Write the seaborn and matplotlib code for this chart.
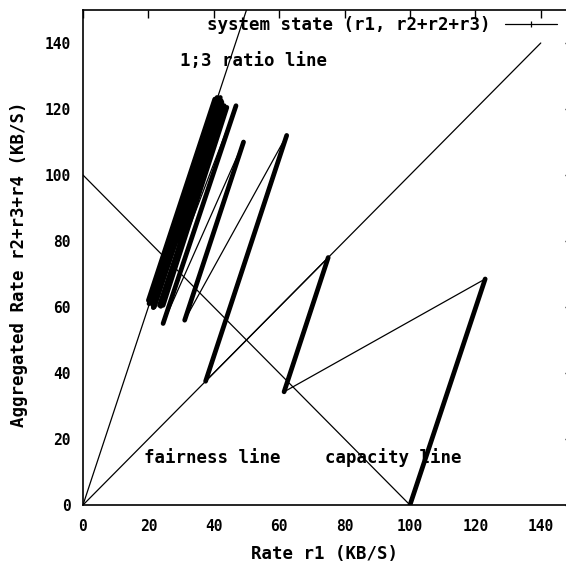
import matplotlib
matplotlib.use("Agg")
import matplotlib.pyplot as plt
from matplotlib.lines import Line2D
import seaborn as sns
import pandas as pd

# ---- data -------------------------------------------------------------
# system state trajectory vertices: (r1, r2+r3+r4), alternating trough / peak
state_r1 = [100.0, 123.0, 61.5, 75.0, 37.5, 62.3, 31.1, 49.1, 24.5, 46.8,
            23.4, 43.5, 21.8, 42.5, 21.2, 42.0, 21.0, 41.5, 20.8, 42.8,
            21.4, 41.0, 20.5, 42.3, 24.5, 44.0, 21.2, 41.8, 20.0, 40.3,
            20.9, 43.0, 21.5, 41.5, 23.8, 43.2, 20.2, 40.6, 20.8, 42.0]
state_agg = [0.0, 68.5, 34.3, 75.0, 37.5, 112.0, 56.0, 110.0, 55.0, 121.0,
             60.5, 120.0, 60.0, 122.0, 61.0, 123.5, 61.8, 123.0, 61.5, 121.0,
             60.5, 123.5, 61.8, 122.5, 60.5, 120.5, 61.2, 123.0, 62.0, 123.0,
             61.5, 119.5, 59.8, 122.5, 60.2, 121.0, 61.0, 122.5, 61.2, 121.5]

fair_r1 = [0, 140]
fair_agg = [0, 140]
cap_r1 = [0, 100]
cap_agg = [100, 0]
ratio_r1 = [0, 50]
ratio_agg = [0, 150]

xticks = [0, 20, 40, 60, 80, 100, 120, 140]
yticks = [0, 20, 40, 60, 80, 100, 120, 140]

legend_label = "system state (r1, r2+r2+r3)"
xlabel = "Rate r1 (KB/S)"
ylabel = "Aggregated Rate r2+r3+r4 (KB/S)"

# ---- style ------------------------------------------------------------
sns.set_style("white")
plt.rcParams["font.family"] = ["DejaVu Sans Mono", "DejaVu Sans"]
plt.rcParams["font.weight"] = "bold"
for k in ["text.color", "axes.labelcolor", "xtick.color", "ytick.color",
          "axes.edgecolor"]:
    plt.rcParams[k] = "black"

fig = plt.figure(figsize=(5.66, 5.62), dpi=100)
ax = fig.add_axes([0.1466, 0.1014, 0.8666, 0.8808])

# reference lines
for xs, ys in [(fair_r1, fair_agg), (cap_r1, cap_agg), (ratio_r1, ratio_agg)]:
    sns.lineplot(x=xs, y=ys, ax=ax, color="black", lw=0.9, sort=False,
                 estimator=None)

# thin path (decrease jumps and full path)
sns.lineplot(x=state_r1, y=state_agg, ax=ax, color="black", lw=0.9,
             sort=False, estimator=None)

# thick increase segments (every trough -> following peak)
rows = []
for i in range(0, len(state_r1) - 1, 2):
    rows.append({"seg": i, "r1": state_r1[i], "agg": state_agg[i]})
    rows.append({"seg": i, "r1": state_r1[i + 1], "agg": state_agg[i + 1]})
df = pd.DataFrame(rows)
sns.lineplot(data=df, x="r1", y="agg", units="seg", estimator=None,
             sort=False, ax=ax, color="black", lw=3.4,
             solid_capstyle="round")

ax.set_xlim(0, 150)
ax.set_ylim(0, 150)
ax.set_xticks(xticks)
ax.set_yticks(yticks)
ax.set_xticklabels([str(t) for t in xticks])
ax.set_yticklabels([str(t) for t in yticks])
ax.tick_params(direction="in", top=True, right=True, length=6, width=1.0,
               labelsize=10.5, colors="black")
ax.tick_params(axis="x", pad=10)
ax.tick_params(axis="y", pad=9)
for lab in ax.get_xticklabels() + ax.get_yticklabels():
    lab.set_fontweight("bold")
for sp in ax.spines.values():
    sp.set_linewidth(1.2)
    sp.set_color("black")

ax.set_xlabel(xlabel, fontsize=12.5, fontweight="bold", color="black")
ax.set_ylabel(ylabel, fontsize=12.5, fontweight="bold", color="black")
ax.xaxis.set_label_coords(0.493, -0.081)
ax.yaxis.set_label_coords(-0.112, 0.487)

ax.text(29.7, 134.5, "1;3 ratio line", fontsize=12.5, fontweight="bold",
        va="center", ha="left", color="black")
ax.text(18.8, 14.3, "fairness line", fontsize=12.5, fontweight="bold",
        va="center", ha="left", color="black")
ax.text(74.0, 14.3, "capacity line", fontsize=12.5, fontweight="bold",
        va="center", ha="left", color="black")

h = Line2D([], [], color="black", lw=0.9, marker="|", markersize=5,
           markeredgewidth=0.9)
leg = ax.legend(handles=[h], labels=[legend_label], loc="center right",
                bbox_to_anchor=(0.967, 0.97), frameon=False,
                markerfirst=False, handlelength=3.0, handletextpad=0.85,
                borderpad=0, borderaxespad=0, numpoints=1,
                prop={"size": 12.5, "weight": "bold"})
for t in leg.get_texts():
    t.set_color("black")

fig.savefig("out.png", dpi=100)
